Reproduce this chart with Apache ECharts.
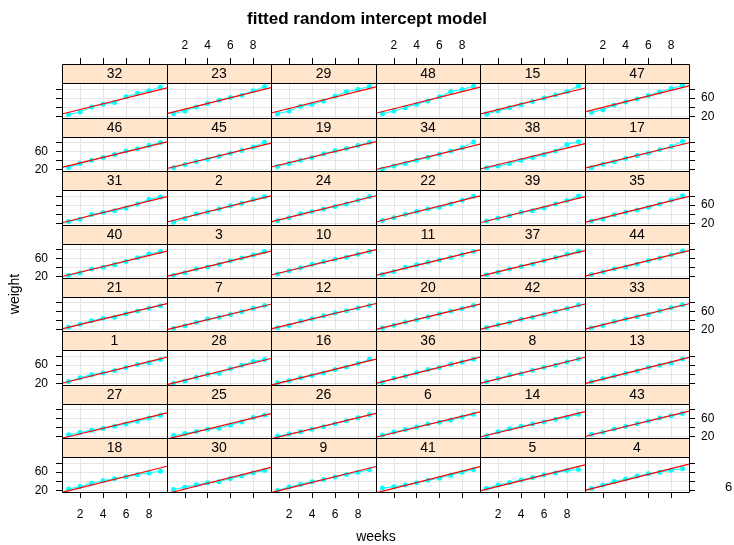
<!DOCTYPE html>
<html>
<head>
<meta charset="utf-8">
<script src="https://cdn.jsdelivr.net/npm/echarts@6/dist/echarts.min.js"></script>
<style>
  html, body { margin: 0; padding: 0; background: #fff; }
  #chart { width: 734px; height: 545px; }
</style>
</head>
<body>
<div id="chart"></div>
<script>
// Pig weights by week, one panel per pig, with the fitted random intercept line.
const weeks = [1, 2, 3, 4, 5, 6, 7, 8, 9];
const xTicks = [2, 4, 6, 8];
const yTicks = [20, 40, 60, 80];
const yLabels = [20, 60];

// panel order (pigs sorted by their largest weight), rows listed top to bottom
const panelIds = [
  32, 23, 29, 48, 15, 47,
  46, 45, 19, 34, 38, 17,
  31, 2, 24, 22, 39, 35,
  40, 3, 10, 11, 37, 44,
  21, 7, 12, 20, 42, 33,
  1, 28, 16, 36, 8, 13,
  27, 25, 26, 6, 14, 43,
  18, 30, 9, 41, 5, 4
];

// observed weights (kg) per pig, weeks 1..9
const w1  = [24, 32, 39, 42.5, 48, 54.5, 61, 65, 72];
const w2  = [22.5, 30.5, 40.5, 45, 51, 58.5, 64, 72, 78];
const w3  = [22.5, 28, 36.5, 41, 47.5, 55, 61, 68, 76];
const w4  = [24, 31.5, 39.5, 44.5, 51, 56, 59.5, 64, 67];
const w5  = [24.5, 31.5, 37, 42.5, 48, 54, 58, 63, 65.5];
const w6  = [23, 30, 35.5, 41, 48, 51.5, 56.5, 63.5, 69.5];
const w7  = [22.5, 28.5, 36, 43.5, 47, 53.5, 59.5, 67.5, 73.5];
const w8  = [23.5, 30.5, 38, 41, 48.5, 55, 59.5, 66.5, 73];
const w9  = [20, 27.5, 33, 39, 43.5, 49, 54.5, 59.5, 65];
const w10 = [25.5, 32.5, 39.5, 47, 53, 58.5, 63, 69.5, 76];
const w11 = [24.5, 31, 40.5, 46, 51.5, 57, 62.5, 69, 76];
const w12 = [24, 29, 39, 44, 50.5, 57, 61.5, 68, 73.5];
const w13 = [23.5, 30.5, 36.5, 42, 47, 55, 59.5, 64.5, 73];
const w14 = [21.5, 30.5, 37, 42.5, 48, 52.5, 58.5, 63, 69.5];
const w15 = [25, 32, 38.5, 45.5, 52.5, 60, 66.5, 74, 86];
const w16 = [21.5, 26, 32, 37, 42.5, 50, 55.5, 63, 72.5];
const w17 = [23.5, 31.5, 37, 44.5, 51, 56.5, 64, 71.5, 82.5];
const w18 = [23, 28.5, 35.5, 41, 45.5, 49.5, 54, 58, 61.5];
const w19 = [26.5, 33.5, 40.5, 46.5, 55, 61.5, 67, 73.5, 81];
const w20 = [23, 29.5, 36.5, 41.5, 48, 55, 61, 67, 73.5];
const w21 = [25, 31.5, 39.5, 45, 47.5, 55, 61, 67.5, 73];
const w22 = [26.5, 32.5, 40, 46, 51, 55, 62, 70.5, 79];
const w23 = [26, 31.5, 40.5, 48, 55, 61, 66, 75.5, 84.5];
const w24 = [25.5, 32.5, 41, 46, 51, 56.5, 62, 70.5, 78.5];
const w25 = [21.5, 26.5, 31, 36, 38.5, 45.5, 52.5, 62.5, 68];
const w26 = [21, 25.5, 30.5, 36, 41.5, 48.5, 55, 62, 68.5];
const w27 = [24, 29, 34, 38, 43, 48, 54, 61, 67.5];
const w28 = [20.5, 25, 33.5, 39.5, 42, 52, 59.5, 67.5, 72];
const w29 = [26, 31.5, 42, 46.5, 53.5, 64, 73.5, 78.5, 85];
const w30 = [22, 27, 32, 36.5, 38.5, 46, 51, 58.5, 63];
const w31 = [24, 29, 39.5, 43.5, 47.5, 53.5, 62, 72, 77.5];
const w32 = [24, 29.5, 40.5, 46.5, 50, 62.5, 70, 75.5, 84];
const w33 = [23.5, 29, 38, 43.5, 48.5, 53.5, 61.5, 68.5, 75];
const w34 = [21, 27.5, 33.5, 40.5, 47, 54, 61, 68.5, 81.5];
const w35 = [25, 29.5, 38.5, 44, 49, 55, 62, 71, 80];
const w36 = [22, 31, 36, 43, 50, 54.5, 61.5, 66.5, 72.5];
const w37 = [24, 29.5, 36.5, 42, 48, 55, 62.5, 69.5, 76.5];
const w38 = [24, 27.5, 33, 40.5, 46.5, 53.5, 61, 76, 82];
const w39 = [25, 31, 36.5, 44, 47.5, 53.5, 62, 69.5, 79.5];
const w40 = [22.5, 27.5, 36.5, 40.5, 46.5, 53.5, 62, 70, 75.5];
const w41 = [25, 28, 31.5, 36.5, 42, 46.5, 53, 59.5, 65];
const w42 = [24.5, 30.5, 36, 43, 47.5, 54, 60, 67, 74.5];
const w43 = [25, 29.5, 36.5, 42, 48.5, 54.5, 61, 66, 71];
const w44 = [24.5, 30, 37, 41, 48, 55, 61, 68.5, 77];
const w45 = [24, 31, 38, 43, 49.5, 56, 62.5, 70, 80.5];
const w46 = [24.5, 33, 40.5, 46.5, 53.5, 61, 66, 73.5, 80];
const w47 = [28.5, 34.5, 44.5, 51, 58, 65.5, 73, 80.5, 87];
const w48 = [26, 31.5, 39, 46.5, 53.5, 62.5, 73.5, 78.5, 85.5];

const panelWeights = [
  w32, w23, w29, w48, w15, w47,
  w46, w45, w19, w34, w38, w17,
  w31, w2, w24, w22, w39, w35,
  w40, w3, w10, w11, w37, w44,
  w21, w7, w12, w20, w42, w33,
  w1, w28, w16, w36, w8, w13,
  w27, w25, w26, w6, w14, w43,
  w18, w30, w9, w41, w5, w4
];

// fitted model: common weekly slope, pig-specific intercepts (same order as panelIds)
const fittedSlope = 6.21;
const fittedIntercepts = [
  22.6, 23.2, 24.6, 24.1, 22.3, 27.0,
  22.1, 19.5, 22.8, 17.2, 18.3, 20.3,
  18.8, 20.3, 20.5, 20.3, 18.8, 19.4,
  17.2, 17.3, 20.6, 19.8, 18.2, 18.1,
  18.4, 16.9, 18.6, 17.3, 17.5, 18.0,
  17.6, 14.7, 13.4, 17.5, 17.3, 16.9,
  13.2, 11.4, 12.1, 15.5, 16.0, 17.2,
  13.0, 10.6, 12.4, 12.0, 16.1, 17.5
];

// layout of the 6 x 8 panel grid (px)
const NCOL = 6, NROW = 8;
const LEFT0 = 62.3, COL_W = 104.45;
const TOP0 = 64.3, ROW_H = 53.43, STRIP_H = 19;
const X_MIN = 0.43, X_MAX = 9.57;
const Y_MIN = 16.5, Y_MAX = 92.5;

const FONT = '"Liberation Sans", Arial, Helvetica, sans-serif';
const STRIP_FILL = '#ffe5cc';
const GRID_COLOR = '#e6e6e6';

const colEdge = c => Math.round(LEFT0 + c * COL_W);
const rowEdge = r => Math.round(TOP0 + r * ROW_H);

const grids = [], xAxes = [], yAxes = [], series = [], graphics = [];

panelIds.forEach((id, i) => {
  const r = Math.floor(i / NCOL), c = i % NCOL;
  const left = colEdge(c), right = colEdge(c + 1);
  const stripTop = rowEdge(r), bottom = rowEdge(r + 1);
  const top = stripTop + STRIP_H;
  const width = right - left, height = bottom - top;

  grids.push({
    left: left, top: top, width: width, height: height,
    show: true, borderWidth: 0, backgroundColor: '#fff'
  });

  const xi = xAxes.length;
  xAxes.push({
    gridIndex: i, type: 'value', min: X_MIN, max: X_MAX,
    axisLine: { show: false },
    axisTick: { show: r === NROW - 1, length: 6, customValues: xTicks,
                lineStyle: { color: '#000', width: 1 } },
    axisLabel: { show: r === NROW - 1 && c % 2 === 0, customValues: xTicks,
                 fontSize: 12, color: '#000', fontFamily: FONT, margin: 17 },
    splitLine: { show: true, lineStyle: { color: GRID_COLOR, width: 1 } }
  });
  if (r === 0) {
    xAxes.push({
      gridIndex: i, type: 'value', min: X_MIN, max: X_MAX, position: 'top', offset: STRIP_H,
      axisLine: { show: false },
      axisTick: { show: true, length: 6, customValues: xTicks,
                  lineStyle: { color: '#000', width: 1 } },
      axisLabel: { show: c % 2 === 1, customValues: xTicks,
                   fontSize: 12, color: '#000', fontFamily: FONT, margin: 12 },
      splitLine: { show: false }
    });
  }

  const yi = yAxes.length;
  yAxes.push({
    gridIndex: i, type: 'value', min: Y_MIN, max: Y_MAX,
    axisLine: { show: false },
    axisTick: { show: c === 0, length: 6, customValues: yTicks,
                lineStyle: { color: '#000', width: 1 } },
    axisLabel: { show: c === 0 && r % 2 === 1, customValues: yLabels,
                 fontSize: 12, color: '#000', fontFamily: FONT, margin: 14 },
    splitLine: { show: true, lineStyle: { color: GRID_COLOR, width: 1 } }
  });
  if (c === NCOL - 1) {
    yAxes.push({
      gridIndex: i, type: 'value', min: Y_MIN, max: Y_MAX, position: 'right',
      axisLine: { show: false },
      axisTick: { show: true, length: 6, customValues: yTicks,
                  lineStyle: { color: '#000', width: 1 } },
      axisLabel: { show: r % 2 === 0, customValues: yLabels,
                   fontSize: 12, color: '#000', fontFamily: FONT, margin: 12 },
      splitLine: { show: false }
    });
  }

  // observed weights: points joined by a line
  series.push({
    type: 'line', xAxisIndex: xi, yAxisIndex: yi,
    data: weeks.map((w, k) => [w, panelWeights[i][k]]),
    symbol: 'circle', symbolSize: 5, showSymbol: true,
    itemStyle: { color: '#00ffff' },
    lineStyle: { color: '#00ffff', width: 1 },
    silent: true, z: 2
  });

  // fitted line across the panel
  const a = fittedIntercepts[i];
  series.push({
    type: 'line', xAxisIndex: xi, yAxisIndex: yi,
    data: [[X_MIN, a + fittedSlope * X_MIN], [X_MAX, a + fittedSlope * X_MAX]],
    symbol: 'none', clip: true,
    lineStyle: { color: '#ff0000', width: 1.2 },
    silent: true, z: 3
  });

  // strip with the pig id
  graphics.push({
    type: 'rect', silent: true, z: 10,
    shape: { x: left + 0.5, y: stripTop + 0.5, width: width, height: STRIP_H },
    style: { fill: STRIP_FILL, stroke: '#000', lineWidth: 1 }
  });
  graphics.push({
    type: 'text', silent: true, z: 11,
    x: left + width / 2, y: stripTop + STRIP_H / 2 + 1,
    style: { text: String(id), fill: '#000', font: '14px ' + FONT,
             textAlign: 'center', textVerticalAlign: 'middle' }
  });
  // panel frame drawn above the data
  graphics.push({
    type: 'rect', silent: true, z: 12,
    shape: { x: left + 0.5, y: top + 0.5, width: width, height: height },
    style: { fill: null, stroke: '#000', lineWidth: 1 }
  });
});

graphics.push({
  type: 'text', silent: true, x: 376, y: 537,
  style: { text: 'weeks', fill: '#000', font: '14px ' + FONT,
           textAlign: 'center', textVerticalAlign: 'middle' }
});
graphics.push({
  type: 'text', silent: true, x: 15, y: 294, rotation: Math.PI / 2,
  style: { text: 'weight', fill: '#000', font: '14px ' + FONT,
           textAlign: 'center', textVerticalAlign: 'middle' }
});
graphics.push({
  type: 'text', silent: true, x: 725, y: 487,
  style: { text: '6', fill: '#000', font: '13px ' + FONT,
           textAlign: 'left', textVerticalAlign: 'middle' }
});

const chart = echarts.init(document.getElementById('chart'), null, { renderer: 'canvas' });
chart.setOption({
  animation: false,
  backgroundColor: '#fff',
  title: {
    text: 'fitted random intercept model', left: 'center', top: 6,
    textStyle: { fontSize: 17, fontWeight: 'bold', color: '#000', fontFamily: FONT }
  },
  grid: grids, xAxis: xAxes, yAxis: yAxes, series: series,
  graphic: { elements: graphics }
});
</script>
</body>
</html>
